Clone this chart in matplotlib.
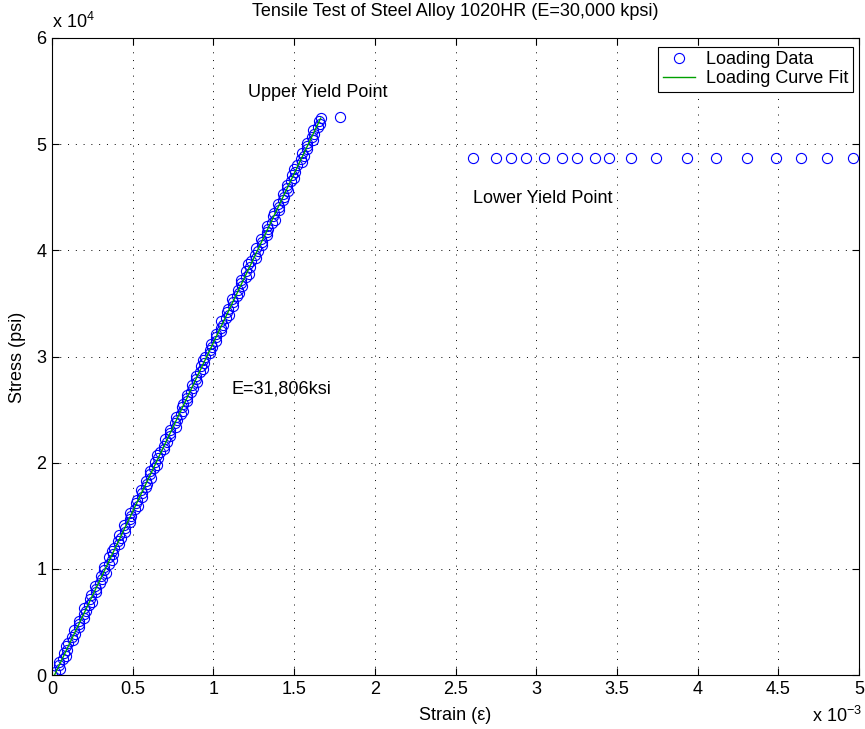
import numpy as np
import matplotlib
matplotlib.use('Agg')
import matplotlib.pyplot as plt

plt.rcParams['font.family'] = ['Liberation Sans', 'DejaVu Sans']
plt.rcParams['mathtext.fontset'] = 'custom'
plt.rcParams['mathtext.rm'] = 'Liberation Sans'
plt.rcParams['mathtext.it'] = 'Liberation Sans:italic'

FS = 13

# loading data: stress (ksi) and strain (x 1e-3)
load_stress_ksi = [
    0.0, 0.3, 0.6, 0.9, 1.2, 1.5, 1.8, 2.1, 2.4, 2.7,
    3.0, 3.3, 3.6, 3.9, 4.2, 4.5, 4.8, 5.1, 5.4, 5.7,
    6.0, 6.3, 6.6, 6.9, 7.2, 7.5, 7.8, 8.1, 8.4, 8.7,
    9.0, 9.3, 9.6, 9.9, 10.2, 10.5, 10.8, 11.1, 11.4, 11.7,
    12.0, 12.3, 12.6, 12.9, 13.2, 13.5, 13.8, 14.1, 14.4, 14.7,
    15.0, 15.3, 15.6, 15.9, 16.2, 16.5, 16.8, 17.1, 17.4, 17.7,
    18.0, 18.3, 18.6, 18.9, 19.2, 19.5, 19.8, 20.1, 20.4, 20.7,
    21.0, 21.3, 21.6, 21.9, 22.2, 22.5, 22.8, 23.1, 23.4, 23.7,
    24.0, 24.3, 24.6, 24.9, 25.2, 25.5, 25.8, 26.1, 26.4, 26.7,
    27.0, 27.3, 27.6, 27.9, 28.2, 28.5, 28.8, 29.1, 29.4, 29.7,
    30.0, 30.3, 30.6, 30.9, 31.2, 31.5, 31.8, 32.1, 32.4, 32.7,
    33.0, 33.3, 33.6, 33.9, 34.2, 34.5, 34.8, 35.1, 35.4, 35.7,
    36.0, 36.3, 36.6, 36.9, 37.2, 37.5, 37.8, 38.1, 38.4, 38.7,
    39.0, 39.3, 39.6, 39.9, 40.2, 40.5, 40.8, 41.1, 41.4, 41.7,
    42.0, 42.3, 42.6, 42.9, 43.2, 43.5, 43.8, 44.1, 44.4, 44.7,
    45.0, 45.3, 45.6, 45.9, 46.2, 46.5, 46.8, 47.1, 47.4, 47.7,
    48.0, 48.3, 48.6, 48.9, 49.2, 49.5, 49.8, 50.1, 50.4, 50.7,
    51.0, 51.3, 51.6, 51.9, 52.2, 52.5]
load_strain_e3 = [
    0.000, 0.019, 0.049, 0.041, 0.041, 0.068, 0.087, 0.073, 0.093, 0.086,
    0.102, 0.131, 0.127, 0.144, 0.134, 0.167, 0.167, 0.166, 0.201, 0.198,
    0.209, 0.200, 0.232, 0.248, 0.237, 0.243, 0.273, 0.272, 0.268, 0.297,
    0.308, 0.302, 0.332, 0.324, 0.324, 0.351, 0.370, 0.356, 0.376, 0.369,
    0.385, 0.414, 0.410, 0.427, 0.417, 0.450, 0.450, 0.449, 0.484, 0.481,
    0.492, 0.483, 0.515, 0.531, 0.520, 0.526, 0.556, 0.555, 0.551, 0.580,
    0.591, 0.585, 0.615, 0.607, 0.607, 0.634, 0.653, 0.639, 0.659, 0.652,
    0.668, 0.697, 0.693, 0.710, 0.700, 0.733, 0.733, 0.732, 0.766, 0.764,
    0.775, 0.766, 0.798, 0.814, 0.803, 0.809, 0.839, 0.838, 0.834, 0.863,
    0.874, 0.868, 0.898, 0.890, 0.890, 0.917, 0.936, 0.922, 0.942, 0.935,
    0.951, 0.980, 0.976, 0.993, 0.983, 1.016, 1.016, 1.015, 1.049, 1.047,
    1.058, 1.049, 1.081, 1.097, 1.086, 1.091, 1.122, 1.121, 1.117, 1.146,
    1.157, 1.151, 1.180, 1.173, 1.173, 1.200, 1.219, 1.205, 1.225, 1.217,
    1.234, 1.263, 1.259, 1.276, 1.266, 1.299, 1.299, 1.298, 1.332, 1.330,
    1.341, 1.332, 1.364, 1.380, 1.369, 1.374, 1.405, 1.404, 1.400, 1.429,
    1.440, 1.434, 1.463, 1.456, 1.456, 1.483, 1.502, 1.488, 1.508, 1.500,
    1.517, 1.546, 1.542, 1.559, 1.549, 1.582, 1.581, 1.581, 1.615, 1.613,
    1.624, 1.615, 1.647, 1.662, 1.652, 1.665]

# upper yield point
upper_strain_e3 = [1.784]
upper_stress_ksi = [52.6]

# lower yield plateau
lower_strain_e3 = [2.610, 2.751, 2.842, 2.937, 3.048, 3.160, 3.255, 3.366, 3.453, 3.589,
                   3.742, 3.932, 4.114, 4.304, 4.486, 4.639, 4.804, 4.965]
lower_stress_ksi = [48.7] * len(lower_strain_e3)

# linear fit of the elastic region
E_ksi = 31806.0
fit_intercept_ksi = -0.5


def make_plot():
    strain = np.array(load_strain_e3 + upper_strain_e3 + lower_strain_e3) * 1e-3
    stress = np.array(load_stress_ksi + upper_stress_ksi + lower_stress_ksi) * 1e3

    fit_strain = np.array([0.0, max(load_strain_e3)]) * 1e-3
    fit_stress = E_ksi * 1e3 * fit_strain + fit_intercept_ksi * 1e3

    fig = plt.figure(figsize=(8.65, 7.29), dpi=100)
    ax = fig.add_axes([52/865, 54/729, 807/865, 637/729])

    ax.plot(strain, stress, 'o', mfc='none', mec='b', ms=7.3, mew=0.8,
            label='Loading Data')
    ax.plot(fit_strain, fit_stress, '-', color='#00a000', lw=1.0, zorder=3,
            label='Loading Curve Fit')

    ax.set_xlim(0, 5e-3)
    ax.set_ylim(0, 6e4)
    xt = np.arange(0, 5.01, 0.5)
    ax.set_xticks(xt * 1e-3)
    ax.set_xticklabels(['%g' % v for v in xt])
    yt = np.arange(0, 7)
    ax.set_yticks(yt * 1e4)
    ax.set_yticklabels(['%d' % v for v in yt])

    ax.grid(True, linestyle=(0, (1, 7)), color='black', lw=0.7)
    ax.tick_params(direction='in', length=5, width=0.8, labelsize=FS,
                   top=True, right=True, pad=4)
    for s in ax.spines.values():
        s.set_linewidth(0.8)

    ax.text(1.214e-3, 5.49e4, 'Upper Yield Point', fontsize=FS, va='center')
    ax.text(2.608e-3, 4.49e4, 'Lower Yield Point', fontsize=FS, va='center')
    ax.text(1.115e-3, 2.69e4, 'E=31,806ksi', fontsize=FS, va='center')

    leg = ax.legend(loc='upper right', bbox_to_anchor=(0.9926, 0.9859),
                    fontsize=FS, numpoints=1, fancybox=False,
                    framealpha=1, edgecolor='black', borderaxespad=0,
                    handlelength=1.8, borderpad=0.25, labelspacing=0.1,
                    handletextpad=0.6)
    leg.get_frame().set_linewidth(0.8)

    fig.text(455/865, 1 - 12/729, 'Tensile Test of Steel Alloy 1020HR (E=30,000 kpsi)',
             ha='center', va='center', fontsize=FS)
    fig.text(455/865, 1 - 715/729, 'Strain (\u03b5)', ha='center', va='center',
             fontsize=FS)
    fig.text(18/865, 1 - 357/729, 'Stress (psi)', ha='center', va='center',
             rotation=90, fontsize=FS)
    fig.text(52/865, 1 - 22/729, r'x 10$^{4}$', ha='left', va='center', fontsize=FS)
    fig.text(862/865, 1 - 716/729, r'x 10$^{-3}$', ha='right', va='center', fontsize=FS)

    fig.savefig('out.png', dpi=100)


if __name__ == '__main__':
    make_plot()
